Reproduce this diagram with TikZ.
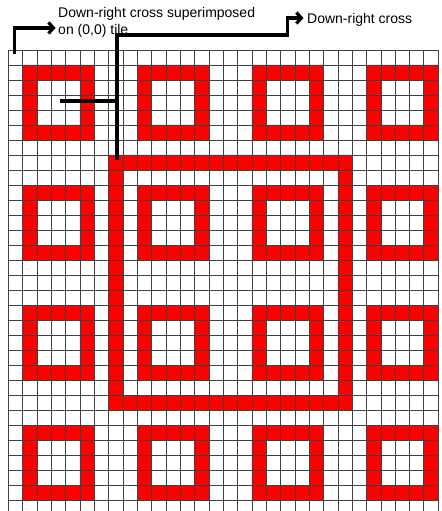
\documentclass[tikz,border=0pt]{standalone}
\usepackage{fontspec}
\setmainfont{Liberation Sans}
\usetikzlibrary{arrows.meta}

\begin{document}
\begin{tikzpicture}[
    x=14.33bp, y=-15bp,
    gridline/.style={black!75, line width=0.8bp},
    tile/.style={fill=red, even odd rule},
    callout/.style={line width=3.2bp},
    pointer/.style={callout, -{Straight Barb[length=5bp,width=11bp]}},
    lbl/.style={font=\fontsize{14bp}{16.7bp}\selectfont, inner sep=0pt, align=left}
]
\useasboundingbox (-0.58,-3.333) rectangle (30.197,30.733);

% red tiles, 4 x 4
\foreach \i in {0,...,3}
  \foreach \j in {0,...,3}
    \fill[tile] (8*\i+1,8*\j+1) rectangle ++(5,5) (8*\i+2,8*\j+2) rectangle ++(3,3);

% down-right cross, one cell thick
\fill[tile] (7,7) rectangle (24,24) (8,8) rectangle (23,23);

% grid
\begin{scope}
    \clip (-0.58,-3.333) rectangle (30.197,30.733);
    \foreach \c in {0,...,30}
        \draw[gridline] (\c,0) -- (\c,31);
    \foreach \r in {0,...,31}
        \draw[gridline] (0,\r) -- (30,\r);
\end{scope}

% labels
\node[lbl, anchor=west] (superlbl) at (3.47,-1.84) {Down-right cross superimposed\\on (0,0) tile};
\node[lbl, anchor=west] (crosslbl) at (20.84,-2.0) {Down-right cross};

\coordinate (tilecell) at (3.61,3.4);
\coordinate (crosscell) at (7.59,7.33);
\coordinate (tilecorner) at (0.45,0.27);
\coordinate (superin) at (3.3,-1.47);
\coordinate (crossbend) at (19.5,-1.0);
\coordinate (crossin) at (20.6,-2.13);

% callouts
\draw[callout] (tilecell) -- (tilecell -| crosscell);
\draw[pointer] (crosscell) |- (crossbend) |- (crossin);
\draw[pointer] (tilecorner) |- (superin);

\end{tikzpicture}
\end{document}
